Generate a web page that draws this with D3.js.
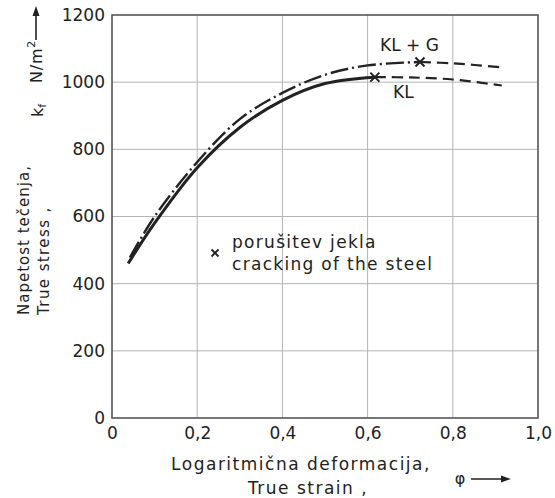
<!DOCTYPE html>
<html>
<head>
<meta charset="utf-8">
<script src="https://cdn.jsdelivr.net/npm/d3@7"></script>
<style>
  html, body { margin: 0; padding: 0; background: #fff; }
  svg { display: block; font-family: "DejaVu Sans", sans-serif; }
</style>
</head>
<body>
<svg id="chart" width="555" height="498"></svg>
<script>
// True stress (N/m^2) versus true strain for the KL and KL + G steels
const strainKL      = [0.038, 0.1, 0.2, 0.3, 0.4, 0.5, 0.617];
const stressKL      = [460, 580, 745, 865, 946, 996, 1015];
const strainKLext   = [0.617, 0.7, 0.8, 0.915];
const stressKLext   = [1015, 1014, 1008, 990];

const strainKLG     = [0.042, 0.1, 0.2, 0.3, 0.4, 0.5, 0.6, 0.723];
const stressKLG     = [478, 600, 762, 890, 968, 1022, 1050, 1060];
const strainKLGext  = [0.723, 0.8, 0.918];
const stressKLGext  = [1060, 1056, 1044];

// steel cracking points
const crackStrain   = [0.617, 0.723];
const crackStress   = [1015, 1060];

const xTickValues   = [0, 0.2, 0.4, 0.6, 0.8, 1.0];
const xTickLabels   = ["0", "0,2", "0,4", "0,6", "0,8", "1,0"];
const yTickValues   = [0, 200, 400, 600, 800, 1000, 1200];
const yTickLabels   = ["0", "200", "400", "600", "800", "1000", "1200"];

const svg = d3.select("#chart");
const ink = "#222";

const x = d3.scaleLinear().domain([0, 1]).range([112, 538]);
const y = d3.scaleLinear().domain([0, 1200]).range([418, 15]);

// grid
const grid = svg.append("g").attr("stroke", "#b4b4b4").attr("stroke-width", 1);
grid.selectAll("line.v").data(xTickValues.slice(1, -1)).join("line")
  .attr("x1", d => x(d)).attr("x2", d => x(d))
  .attr("y1", y(0)).attr("y2", y(1200));
grid.selectAll("line.h").data(yTickValues.slice(1, -1)).join("line")
  .attr("x1", x(0)).attr("x2", x(1))
  .attr("y1", d => y(d)).attr("y2", d => y(d));

// frame
svg.append("rect")
  .attr("x", x(0)).attr("y", y(1200))
  .attr("width", x(1) - x(0)).attr("height", y(0) - y(1200))
  .attr("fill", "none").attr("stroke", "#555").attr("stroke-width", 1.6);

// axes
const xAxis = d3.axisBottom(x).tickValues(xTickValues)
  .tickFormat((d, i) => xTickLabels[i]).tickSize(0).tickPadding(9);
const gx = svg.append("g").attr("transform", `translate(0,${y(0)})`).call(xAxis);
const yAxis = d3.axisLeft(y).tickValues(yTickValues)
  .tickFormat((d, i) => yTickLabels[i]).tickSize(0).tickPadding(7);
const gy = svg.append("g").attr("transform", `translate(${x(0)},0)`).call(yAxis);
[gx, gy].forEach(g => {
  g.select(".domain").remove();
  g.selectAll("text").attr("font-size", 17).attr("fill", ink)
    .attr("font-family", "DejaVu Sans, sans-serif");
});

// curves
const line = d3.line().x(d => x(d[0])).y(d => y(d[1])).curve(d3.curveCatmullRom.alpha(0.5));
const zip = (a, b) => a.map((v, i) => [v, b[i]]);

svg.append("path").datum(zip(strainKL, stressKL)).attr("d", line)
  .attr("fill", "none").attr("stroke", ink).attr("stroke-width", 3);
svg.append("path").datum(zip(strainKLext, stressKLext)).attr("d", line)
  .attr("fill", "none").attr("stroke", ink).attr("stroke-width", 2.2)
  .attr("stroke-dasharray", "11 6");

svg.append("path").datum(zip(strainKLG, stressKLG)).attr("d", line)
  .attr("fill", "none").attr("stroke", ink).attr("stroke-width", 2.4)
  .attr("stroke-dasharray", "18 4 2 4");
svg.append("path").datum(zip(strainKLGext, stressKLGext)).attr("d", line)
  .attr("fill", "none").attr("stroke", ink).attr("stroke-width", 2.2)
  .attr("stroke-dasharray", "11 6");

// cracking markers
function cross(g, cx, cy, r, w) {
  g.append("path")
    .attr("d", `M${cx - r},${cy - r}L${cx + r},${cy + r}M${cx - r},${cy + r}L${cx + r},${cy - r}`)
    .attr("stroke", ink).attr("stroke-width", w).attr("fill", "none");
}
crackStrain.forEach((s, i) => cross(svg, x(s), y(crackStress[i]), 4.5, 2));

// curve labels
const txt = (tx, ty, s, size, extra) => {
  const t = svg.append("text").attr("x", tx).attr("y", ty)
    .attr("font-size", size).attr("fill", ink).text(s);
  if (extra) extra(t);
  return t;
};
txt(380, 51, "KL + G", 17);
txt(393, 98, "KL", 17);

// legend note
cross(svg, 215, 253, 3.5, 1.8);
txt(232, 248, "porušitev jekla", 17, t => t.attr("letter-spacing", 1.3));
txt(232, 270, "cracking of the steel", 17, t => t.attr("letter-spacing", 1.3));

// x title
txt(301, 470, "Logaritmična deformacija,", 17, t => t.attr("text-anchor", "middle").attr("letter-spacing", 1.5));
txt(308, 494, "True strain ,", 17, t => t.attr("text-anchor", "middle").attr("letter-spacing", 1.5));
txt(460, 484, "φ", 16, t => t.attr("text-anchor", "middle"));
svg.append("line").attr("x1", 471).attr("x2", 505).attr("y1", 479).attr("y2", 479)
  .attr("stroke", ink).attr("stroke-width", 1.6);
svg.append("path").attr("d", "M511,479L501,475.5L501,482.5Z").attr("fill", ink);

// y title (rotated)
const rot = (sx, sy, s, size, ls) => svg.append("text")
  .attr("transform", `translate(${sx},${sy}) rotate(-90)`)
  .attr("font-size", size).attr("fill", ink).attr("letter-spacing", ls || 0).text(s);
rot(29, 315, "Napetost tečenja,", 15, 1);
rot(49, 315, "True stress ,", 15, 1.4);
const kf = rot(43, 117, "k", 16, 0);
kf.append("tspan").attr("font-size", 11).attr("dy", 3).text("f");
const unit = rot(42, 83, "N/m", 16, 0.8);
unit.append("tspan").attr("font-size", 11).attr("dy", -7).text("2");
svg.append("line").attr("x1", 36).attr("x2", 36).attr("y1", 40).attr("y2", 12)
  .attr("stroke", ink).attr("stroke-width", 1.6);
svg.append("path").attr("d", "M36,6L32.5,16L39.5,16Z").attr("fill", ink);
</script>
</body>
</html>
